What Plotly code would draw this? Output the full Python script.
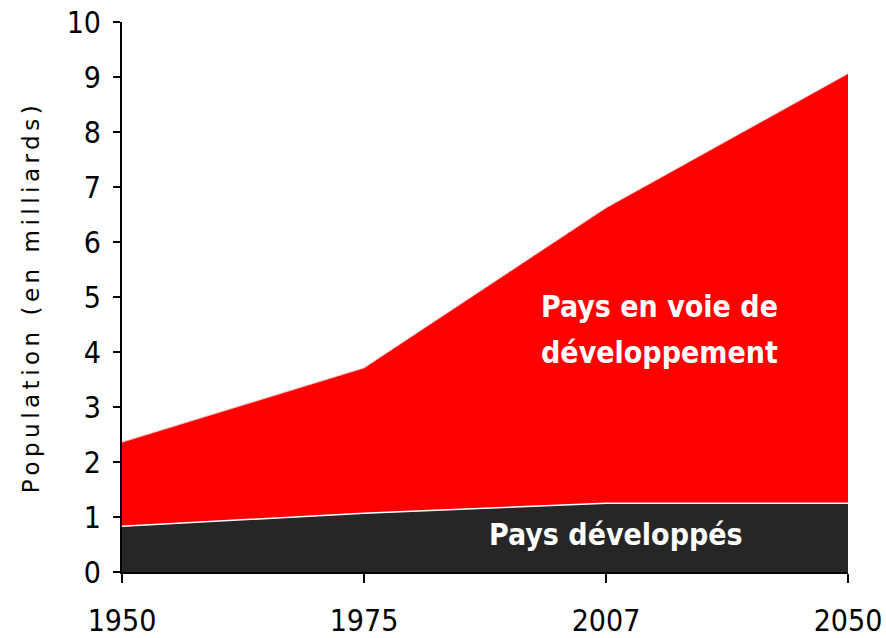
import plotly.graph_objects as go

years = ["1950", "1975", "2007", "2050"]
developed = [0.83, 1.07, 1.25, 1.25]
total = [2.36, 3.71, 6.62, 9.06]
y_ticks = list(range(0, 11))

xpos = list(range(len(years)))

fig = go.Figure()
fig.add_trace(go.Scatter(x=xpos, y=developed, mode="lines", fill="tozeroy",
                         fillcolor="#262626", line=dict(color="white", width=1.5),
                         hoverinfo="skip", showlegend=False))
fig.add_trace(go.Scatter(x=xpos, y=total, mode="lines", fill="tonexty",
                         fillcolor="#ff0000", line=dict(color="#ffb3b3", width=1),
                         hoverinfo="skip", showlegend=False))

lab_font = dict(family="DejaVu Sans Condensed", size=30, color="white")
fig.add_annotation(x=2.22, y=4.83, xref="x", yref="y", text="<b>Pays en voie de</b>",
                   showarrow=False, font=lab_font, align="center")
fig.add_annotation(x=2.22, y=3.99, xref="x", yref="y", text="<b>développement</b>",
                   showarrow=False, font=lab_font, align="center")
fig.add_annotation(x=2.04, y=0.69, xref="x", yref="y", text="<b>Pays développés</b>",
                   showarrow=False, font=lab_font, align="center")

fig.update_layout(
    width=886, height=638,
    margin=dict(l=122, r=38, t=22, b=66, autoexpand=False),
    plot_bgcolor="white", paper_bgcolor="white",
    font=dict(family="DejaVu Sans Condensed", color="black"),
)
fig.update_xaxes(range=[0, 3], tickvals=xpos, ticktext=years, showgrid=False,
                 zeroline=False, showline=True, linecolor="black", linewidth=2,
                 ticks="outside", ticklen=9, tickwidth=2, tickcolor="black",
                 ticklabelstandoff=12, automargin=False,
                 tickfont=dict(family="DejaVu Sans Condensed", size=30, color="black"))
fig.update_yaxes(range=[0, 10], tickvals=y_ticks, showgrid=False, zeroline=False,
                 showline=True, linecolor="black", linewidth=2,
                 ticks="outside", ticklen=7, tickwidth=2, tickcolor="black",
                 ticklabelstandoff=6, automargin=False,
                 tickfont=dict(family="DejaVu Sans Condensed", size=30, color="black"),
                 title=dict(text="Population (en milliards)", standoff=21,
                            font=dict(family="DejaVu Sans", size=23, color="black")))

post = ("document.body.style.margin='0';"
        "document.querySelectorAll('.ytitle').forEach(function(e){"
        "e.style.letterSpacing='4.5px';});")
fig.write_html("out.html", post_script=post, config={"displayModeBar": False})
